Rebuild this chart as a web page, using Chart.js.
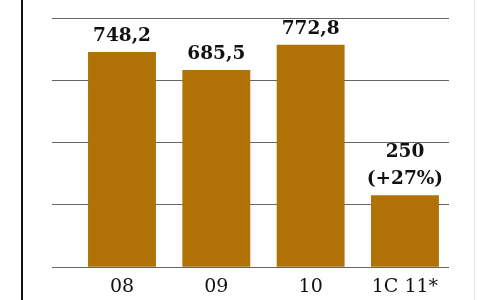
<!DOCTYPE html>
<html>
<head>
<meta charset="utf-8">
<script src="https://cdn.jsdelivr.net/npm/chart.js@4/dist/chart.umd.min.js"></script>
<style>
  html, body { margin: 0; padding: 0; background: #fff; }
  #wrap { position: relative; width: 478px; height: 300px; }
  #leftRule { position: absolute; left: 21px; top: 0; width: 2px; height: 300px; background: #111; }
  #rightRule { position: absolute; left: 474px; top: 0; width: 1px; height: 300px; background: #e8e8e8; }
  canvas { position: absolute; left: 0; top: 0; }
</style>
</head>
<body>
<div id="wrap">
  <canvas id="c" width="478" height="300"></canvas>
  <div id="leftRule"></div>
  <div id="rightRule"></div>
</div>
<script>
const categories = ['08', '09', '10', '1C 11*'];
const values = [748.2, 685.5, 772.8, 250];
const valueLabels = [['748,2'], ['685,5'], ['772,8'], ['250', '(+27%)']];
const yMax = 866;
const yStep = 216.5;

const barColor = '#b07206';

const valueLabelPlugin = {
  id: 'valueLabels',
  afterDatasetsDraw(chart) {
    const ctx = chart.ctx;
    const meta = chart.getDatasetMeta(0);
    ctx.save();
    ctx.fillStyle = '#111';
    ctx.font = 'bold 18.5px "DejaVu Serif"';
    ctx.textAlign = 'center';
    ctx.textBaseline = 'alphabetic';
    meta.data.forEach((bar, i) => {
      const lines = valueLabels[i];
      const n = lines.length;
      lines.forEach((t, j) => {
        const y = bar.y - 11 - (n - 1 - j) * 27;
        ctx.fillText(t, bar.x, y);
      });
    });
    ctx.restore();
  }
};

new Chart(document.getElementById('c'), {
  type: 'bar',
  data: {
    datasets: [{
      data: values.map((v, i) => ({ x: i, y: v })),
      backgroundColor: barColor,
      borderWidth: 0,
      barPercentage: 0.72,
      categoryPercentage: 1
    }]
  },
  options: {
    responsive: false,
    animation: false,
    devicePixelRatio: 1,
    layout: { padding: { left: 52, right: 29, top: 18, bottom: -6 } },
    plugins: { legend: { display: false }, tooltip: { enabled: false } },
    scales: {
      x: {
        type: 'linear',
        offset: false,
        min: -0.742,
        max: 3.467,
        grid: { display: false, drawTicks: false, offset: false },
        border: { display: false },
        afterBuildTicks(axis) { axis.ticks = categories.map((_, i) => ({ value: i })); },
        ticks: {
          autoSkip: false,
          maxRotation: 0,
          padding: 8,
          color: '#111',
          font: { family: '"DejaVu Serif"', size: 19 },
          callback: (v) => categories[v]
        }
      },
      y: {
        min: 0,
        max: yMax,
        ticks: { display: false, stepSize: yStep },
        grid: { color: '#666666', lineWidth: 1, drawTicks: false },
        border: { display: false }
      }
    }
  },
  plugins: [valueLabelPlugin]
});
</script>
</body>
</html>
